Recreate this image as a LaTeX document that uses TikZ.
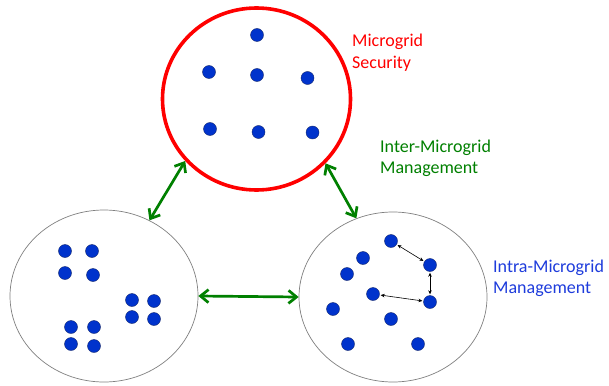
\documentclass[tikz,border=0pt]{standalone}
\usepackage{fontspec}
\setmainfont{Carlito}
\usetikzlibrary{arrows.meta,shapes.geometric}
\definecolor{dotblue}{RGB}{0,51,204}
\definecolor{dotedge}{RGB}{20,40,110}
\definecolor{grn}{RGB}{0,128,0}
\definecolor{txtblue}{RGB}{30,60,220}
\begin{document}
\begin{tikzpicture}[x=1pt,y=-1pt,
  dot/.style={circle,fill=dotblue,draw=dotedge,line width=0.4pt,minimum size=13pt,inner sep=0pt},
  grid/.style={ellipse,draw=gray,line width=0.7pt,inner sep=0pt},
  sec/.style={ellipse,draw=red,line width=3.6pt,inner sep=0pt},
  garrow/.style={draw=grn,line width=2.7pt,{Straight Barb[length=8pt,width=13pt]}-{Straight Barb[length=8pt,width=13pt]}},
  karrow/.style={draw=black,line width=0.6pt,{Stealth[length=4pt,width=3.5pt]}-{Stealth[length=4pt,width=3.5pt]},shorten <=1pt,shorten >=1pt},
  lbl/.style={anchor=base west,font=\fontsize{18}{22}\selectfont,inner sep=0pt}]
\useasboundingbox (0,0) rectangle (609,385);
\fill[white] (0,0) rectangle (609,385);
% microgrids
\node[sec,minimum width=188pt,minimum height=182pt] (top) at (256.5,99) {};
\node[grid,minimum width=188pt,minimum height=172pt] (left) at (104,296) {};
\node[grid,minimum width=188pt,minimum height=170pt] (right) at (393,297) {};
% top dots
\node[dot] (t1) at (257,35) {};
\node[dot] (t2) at (209,72) {};
\node[dot] (t3) at (257,75) {};
\node[dot] (t4) at (307.5,78) {};
\node[dot] (t5) at (210,129) {};
\node[dot] (t6) at (258.5,132) {};
\node[dot] (t7) at (312.5,132.5) {};
% left dots
\node[dot] (l1) at (65,251) {};
\node[dot] (l2) at (92,251) {};
\node[dot] (l3) at (65,273) {};
\node[dot] (l4) at (93,275) {};
\node[dot] (l5) at (132,300) {};
\node[dot] (l6) at (154,301) {};
\node[dot] (l7) at (132,317) {};
\node[dot] (l8) at (154,319) {};
\node[dot] (l9) at (71,327) {};
\node[dot] (l10) at (94,327) {};
\node[dot] (l11) at (71,344) {};
\node[dot] (l12) at (94,346) {};
% right dots
\node[dot] (r1) at (391,241) {};
\node[dot] (r2) at (363,258) {};
\node[dot] (r3) at (347,274) {};
\node[dot] (r4) at (430,265) {};
\node[dot] (r5) at (373,294) {};
\node[dot] (r6) at (430,302) {};
\node[dot] (r7) at (333,309) {};
\node[dot] (r8) at (391,319) {};
\node[dot] (r9) at (348,344) {};
\node[dot] (r10) at (418,344) {};
% intra arrows
\draw[karrow] (r1) -- (r4);
\draw[karrow] (r4) -- (r6);
\draw[karrow] (r5) -- (r6);
% inter arrows
\draw[garrow] (left.59) -- (top.221);
\draw[garrow] (top.317) -- (right.115);
\draw[garrow] (left.east) -- (right.west);
% labels
\node[lbl,text=red] (s1) at (352,47) {Microgrid};
\node[lbl,text=red] (s2) at (352,68.5) {Security};
\node[lbl,text=grn] (g1) at (380,152) {Inter-Microgrid};
\node[lbl,text=grn] (g2) at (380,173.5) {Management};
\node[lbl,text=txtblue] (b1) at (493,272) {Intra-Microgrid};
\node[lbl,text=txtblue] (b2) at (493,293.5) {Management};
\end{tikzpicture}
\end{document}
